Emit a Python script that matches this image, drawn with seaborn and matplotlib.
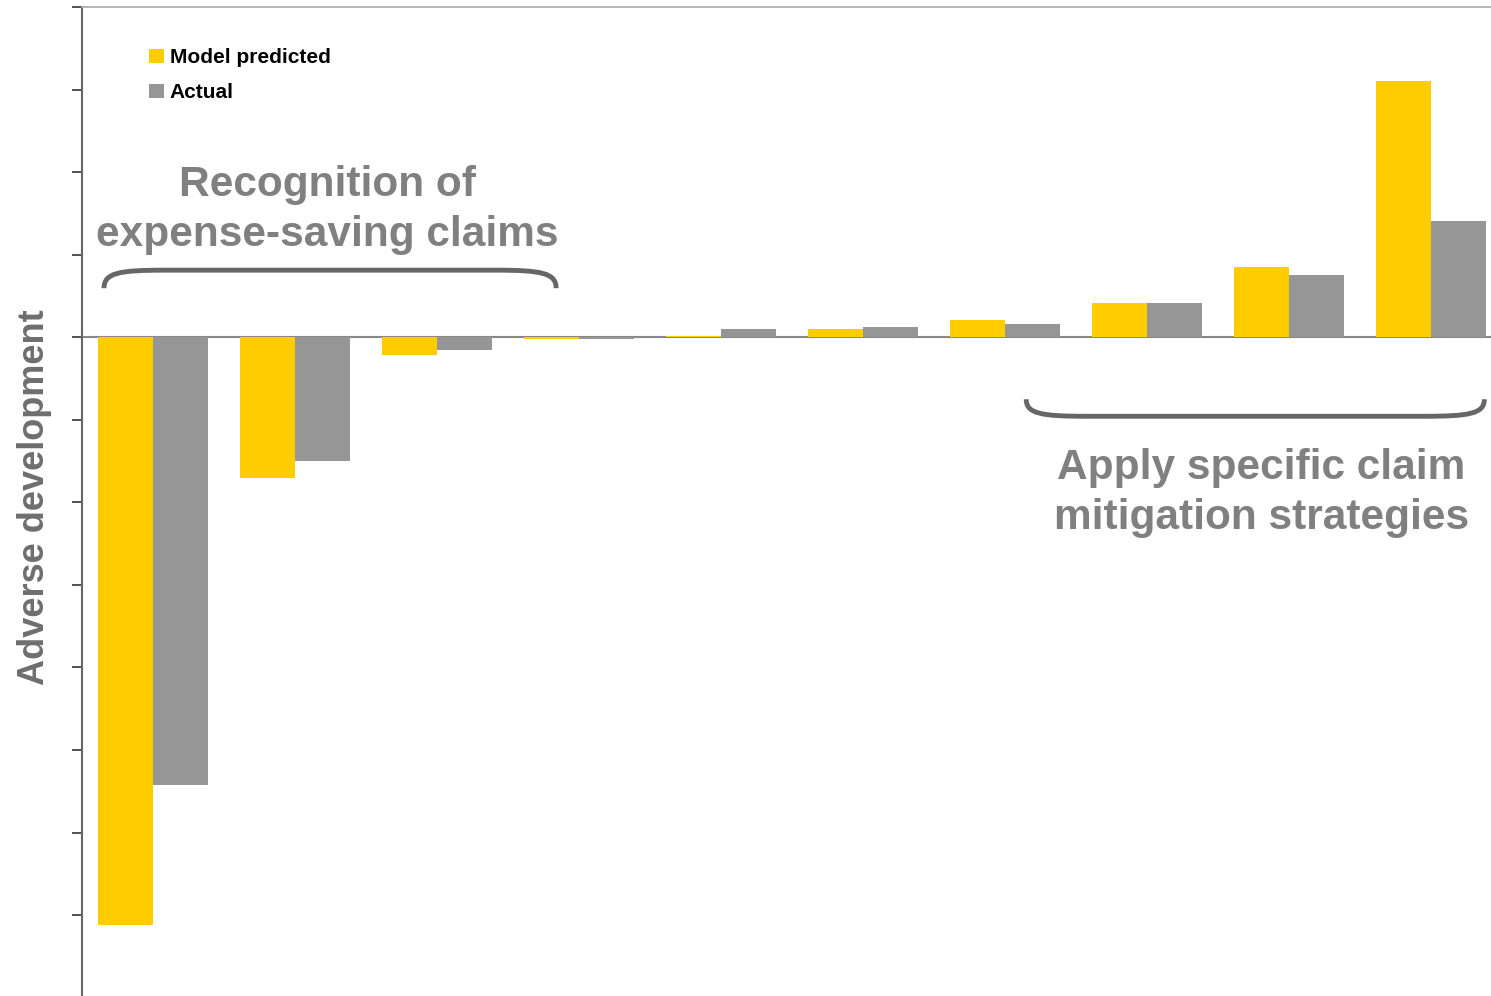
import matplotlib
matplotlib.use("Agg")
import matplotlib.pyplot as plt
import seaborn as sns
import pandas as pd
from matplotlib.path import Path
from matplotlib.patches import PathPatch, Patch

groups = ["G1", "G2", "G3", "G4", "G5", "G6", "G7", "G8", "G9", "G10"]
model_predicted = [-7.12, -1.71, -0.21, -0.02, 0.01, 0.10, 0.21, 0.41, 0.85, 3.10]
actual = [-5.42, -1.50, -0.16, -0.02, 0.10, 0.12, 0.16, 0.41, 0.75, 1.41]
series = ["Model predicted", "Actual"]
colors = ["#FFCC00", "#969696"]

df = pd.DataFrame({
    "group": groups * 2,
    "value": model_predicted + actual,
    "series": [series[0]] * len(groups) + [series[1]] * len(groups),
})

sns.set_style("white")
plt.rcParams["font.family"] = ["Liberation Sans", "DejaVu Sans"]

W, H = 1491, 996
fig = plt.figure(figsize=(W / 100, H / 100), dpi=100)
ax = fig.add_axes([82 / W, 0, (W - 82) / W, (H - 7) / H])

ax.axhline(0, color="#888888", lw=1.5, zorder=1)
sns.barplot(data=df, x="group", y="value", hue="series", palette=colors,
            width=0.775, gap=0, saturation=1, errorbar=None, ax=ax, legend=False,
            linewidth=0, edgecolor="none", zorder=2)

ax.set_xlim(-0.5, 9.42)
ax.set_ylim(-7.98, 4.0)
ax.set_yticks(range(-7, 5))
ax.set_yticklabels([])
ax.set_xticks([])
ax.set_xlabel("")
ax.set_ylabel("")
ax.tick_params(axis="y", direction="out", length=7, width=1.2, color="#333333", left=True)

fig.text(35 / W, 1 - 497 / H, "Adverse development", rotation=90, ha="center", va="center",
         fontsize=26, fontweight="bold", color="#6e6e6e")

for s in ["right", "bottom"]:
    ax.spines[s].set_visible(False)
ax.spines["left"].set_color("#666666")
ax.spines["left"].set_linewidth(1.5)
ax.spines["top"].set_color("#aaaaaa")
ax.spines["top"].set_linewidth(1.2)

# Legend
handles = [Patch(facecolor=c, edgecolor="none") for c in colors]
leg = ax.legend(handles, series, loc="upper left", bbox_to_anchor=(0.0345, 0.977),
                frameon=False, prop={"weight": "bold", "size": 15},
                handlelength=0.68, handleheight=0.68, handletextpad=0.3, labelspacing=0.75)
for t in leg.get_texts():
    t.set_color("black")

# Annotation text
txt_color = "#808080"
def px2data(px, py):
    return ((px - 82) / 142 - 0.5, (338 - py) / 82.5)

x, y = px2data(327, 211)
ax.text(x, y, "Recognition of\nexpense-saving claims", ha="center", va="center",
        fontsize=30.5, fontweight="bold", color=txt_color, linespacing=1.32)
x, y = px2data(1261, 494)
ax.text(x, y, "Apply specific claim\nmitigation strategies", ha="center", va="center",
        fontsize=30.5, fontweight="bold", color=txt_color, linespacing=1.32)

# Braces
def brace(x0, x1, yend, yline, r=60):
    pts = [(x0, yend), (x0, yline + (yend - yline) * 0.15), (x0 + r * 0.25, yline), (x0 + r, yline),
           (x1 - r, yline), (x1 - r * 0.25, yline), (x1, yline + (yend - yline) * 0.15), (x1, yend)]
    pts = [px2data(*p) for p in pts]
    codes = [Path.MOVETO, Path.CURVE4, Path.CURVE4, Path.CURVE4,
             Path.LINETO, Path.CURVE4, Path.CURVE4, Path.CURVE4]
    return PathPatch(Path(pts, codes), fill=False, edgecolor="#666666", lw=3.5,
                     capstyle="butt", zorder=3)

ax.add_patch(brace(104, 556, 289, 271))
ax.add_patch(brace(1026, 1484, 400, 417))

fig.savefig("out.png", dpi=100)
